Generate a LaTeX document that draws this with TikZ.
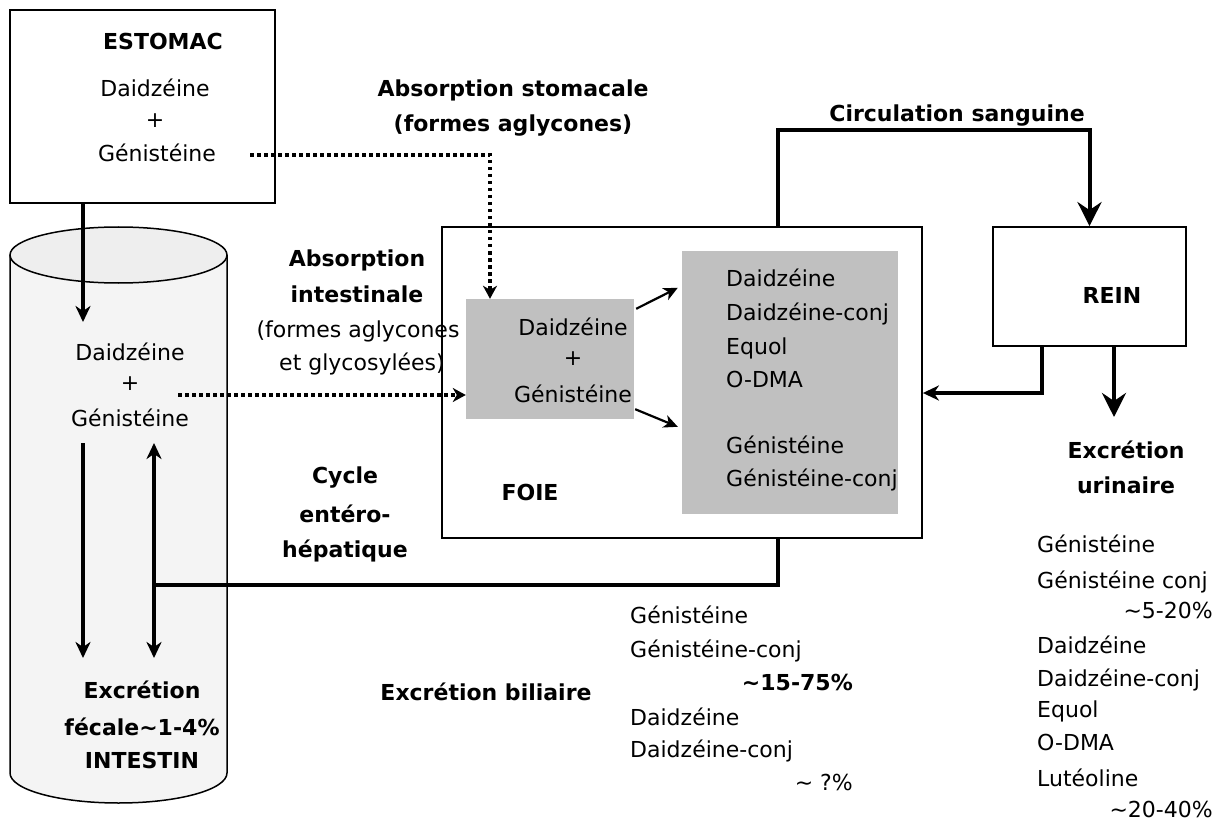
\documentclass[tikz,border=0pt]{standalone}
\usepackage{fontspec}
\setmainfont{DejaVu Sans}
\usetikzlibrary{arrows.meta,calc}
\definecolor{grayfill}{HTML}{C0C0C0}
\definecolor{cylbody}{HTML}{F4F4F4}
\definecolor{cyltop}{HTML}{EEEEEE}
\begin{document}
\begin{tikzpicture}[x=1pt,y=-1pt,
  txt/.style={font=\fontsize{22}{26}\selectfont, inner sep=0pt, anchor=base},
  btxt/.style={font=\fontsize{22}{26}\selectfont\bfseries, inner sep=0pt, anchor=base},
  ltxt/.style={txt, anchor=base west},
  rtxt/.style={txt, anchor=base east},
  box/.style={draw, line width=1.8pt, inner sep=0pt},
  graybox/.style={fill=grayfill, inner sep=0pt},
  conn/.style={line width=4pt},
  bigarr/.style={line width=4pt, -{Stealth[length=24pt,width=24pt,inset=8pt]}},
  medarr/.style={line width=3.2pt, -{Stealth[length=16pt,width=15pt,inset=5pt]}},
  dblarr/.style={line width=3.2pt, {Stealth[length=16pt,width=15pt,inset=5pt]}-{Stealth[length=16pt,width=15pt,inset=5pt]}},
  smallarr/.style={line width=2.2pt, -{Stealth[length=14pt,width=13pt,inset=4pt]}},
  dotarr/.style={line width=3.5pt, dash pattern=on 3.5pt off 3.5pt, -{Stealth[length=13pt,width=14pt,inset=4pt]}}
]
\useasboundingbox (0,0) rectangle (1221,821);

% intestine cylinder
\path[fill=cylbody] (10,255) rectangle (227,773);
\path[fill=cylbody] (118.5,773) ellipse [x radius=108.5pt, y radius=30pt];
\draw[line width=1.5pt] (10,255) -- (10,773) arc[start angle=180, end angle=360, x radius=108.5pt, y radius=30pt] -- (227,255);
\draw[line width=1.5pt, fill=cyltop] (118.5,255) ellipse [x radius=108.5pt, y radius=28pt];

% boxes
\node[box, minimum width=265pt, minimum height=193pt] (estomac) at (142.5,106.5) {};
\node[box, minimum width=480pt, minimum height=311pt] (foie) at (682,382.5) {};
\node[graybox, minimum width=168pt, minimum height=120pt] (g1) at (550,359) {};
\node[graybox, minimum width=216pt, minimum height=263pt] (g2) at (790,382.5) {};
\node[box, minimum width=193pt, minimum height=119pt] (rein) at (1089.5,286.5) {};

% stomach texts
\node[btxt] (estT) at (163,50) {ESTOMAC};
\node[txt] (estD) at (155,97) {Daidzéine};
\node[txt] (estP) at (155,128) {+};
\node[txt] (estG) at (157,162) {Génistéine};

% intestine texts
\node[txt] (intD) at (130,360) {Daidzéine};
\node[txt] (intP) at (130,390) {+};
\node[txt] (intG) at (130,426) {Génistéine};
\node[btxt] (intE) at (142,698) {Excrétion};
\node[btxt] (intF) at (142,735) {fécale\textasciitilde 1-4\%};
\node[btxt] (intI) at (142,768) {INTESTIN};

% labels
\node[btxt] (absS1) at (513,97) {Absorption stomacale};
\node[btxt] (absS2) at (513,132) {(formes aglycones)};
\node[btxt] (absI1) at (357,266) {Absorption};
\node[btxt] (absI2) at (357,302) {intestinale};
\node[txt] (absI3) at (358,337) {(formes aglycones};
\node[txt] (absI4) at (362,370) {et glycosylées)};
\node[btxt] (cyc1) at (345,483) {Cycle};
\node[btxt] (cyc2) at (345,522) {entéro-};
\node[btxt] (cyc3) at (345,557) {hépatique};
\node[btxt] (circ) at (957,122) {Circulation sanguine};
\node[btxt] (bil) at (486,700) {Excrétion biliaire};
\node[btxt] (urin1) at (1126,458) {Excrétion};
\node[btxt] (urin2) at (1126,493) {urinaire};

% liver texts
\node[txt] (g1D) at (573,335) {Daidzéine};
\node[txt] (g1P) at (573,365) {+};
\node[txt] (g1G) at (573,402) {Génistéine};
\node[ltxt] (g2a) at (726,287) {Daidzéine};
\node[ltxt] (g2b) at (726,320) {Daidzéine-conj};
\node[ltxt] (g2c) at (726,354) {Equol};
\node[ltxt] (g2d) at (726,387) {O-DMA};
\node[ltxt] (g2e) at (726,453) {Génistéine};
\node[ltxt] (g2f) at (726,486) {Génistéine-conj};
\node[btxt] (foieT) at (530,500) {FOIE};
\node[btxt] (reinT) at (1112,303) {REIN};

% bile list
\node[ltxt] (b1) at (630,623) {Génistéine};
\node[ltxt] (b2) at (630,657) {Génistéine-conj};
\node[btxt, anchor=base east] (b3) at (853,690) {\textasciitilde 15-75\%};
\node[ltxt] (b4) at (630,725) {Daidzéine};
\node[ltxt] (b5) at (630,757) {Daidzéine-conj};
\node[rtxt] (b6) at (853,790) {\textasciitilde\ ?\%};

% urine list
\node[ltxt] (u1) at (1037,552) {Génistéine};
\node[ltxt] (u2) at (1037,588) {Génistéine conj};
\node[rtxt] (u3) at (1213,618) {\textasciitilde 5-20\%};
\node[ltxt] (u4) at (1037,653) {Daidzéine};
\node[ltxt] (u5) at (1037,686) {Daidzéine-conj};
\node[ltxt] (u6) at (1037,717) {Equol};
\node[ltxt] (u7) at (1037,750) {O-DMA};
\node[ltxt] (u8) at (1037,786) {Lutéoline};
\node[rtxt] (u9) at (1213,817) {\textasciitilde 20-40\%};

% helper coordinates
\coordinate (xa) at (83,0);
\coordinate (xb) at (154,0);
\coordinate (xc) at (778,0);
\coordinate (xd) at (490,0);
\coordinate (xr) at (1042,0);
\coordinate (xu) at (1114,0);
\coordinate (ycirc) at (0,130);
\coordinate (ycyc) at (0,585);
\coordinate (yret) at (0,393);
\coordinate (yint) at (0,395);
\coordinate (dotS) at (250,155);
\coordinate (dotI) at (178,395);
\coordinate (estEnd) at (83,322);
\coordinate (aTop) at (0,443);
\coordinate (aBot) at (0,658);
\coordinate (urEnd) at (1114,417);

% connectors
\draw[medarr] (xa |- estomac.south) -- (estEnd);
\draw[medarr] (xa |- aTop) -- (xa |- aBot);
\draw[dblarr] (xb |- aTop) -- (xb |- aBot);
\draw[conn] (xc |- foie.south) |- (xb |- ycyc);
\draw[bigarr] (xc |- foie.north) -- (xc |- ycirc) -| (rein.north);
\draw[medarr] (xr |- rein.south) |- (foie.east |- yret);
\draw[bigarr] (xu |- rein.south) -- (urEnd);
\draw[dotarr] (dotS) -| (xd |- g1.north);
\draw[dotarr] (dotI) -- (g1.west |- yint);
\draw[smallarr] ($(g1.north east)+(2,10)$) -- ($(g2.north west)+(-4,37)$);
\draw[smallarr] ($(g1.south east)+(1,-10)$) -- ($(g2.north west)+(-4,176)$);
\end{tikzpicture}
\end{document}
